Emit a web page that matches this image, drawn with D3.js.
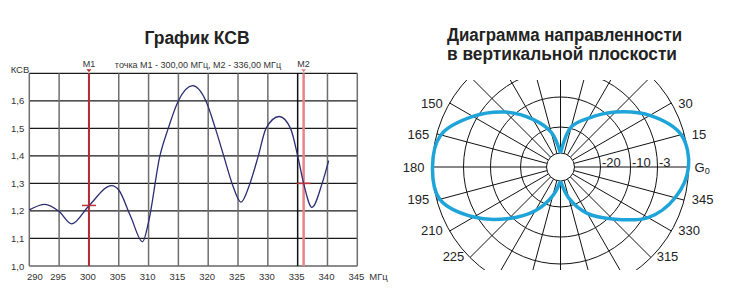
<!DOCTYPE html>
<html>
<head>
<meta charset="utf-8">
<script src="https://cdn.jsdelivr.net/npm/d3@7"></script>
<style>
  body { margin: 0; background: #fff; }
  svg { display: block; font-family: "Liberation Sans", Arial, sans-serif; }
</style>
</head>
<body>
<div id="canvas"></div>
<script>
"use strict";

/* === VSWR data === */
let freqs = [290, 292.6, 295, 297.1, 300, 303.8, 305, 307, 309, 310, 311.9, 313.3, 315, 317.4,
  319.6, 321.2, 322.6, 324, 325.5, 327, 328.4, 329.7, 331.9, 333.8, 335, 336, 337.4, 339.1, 340.2];
let vswr = [1.204, 1.224, 1.198, 1.153, 1.219, 1.292, 1.276, 1.18, 1.088, 1.16, 1.4, 1.5, 1.6, 1.655,
  1.6, 1.5, 1.4, 1.3, 1.232, 1.3, 1.4, 1.5, 1.543, 1.5, 1.4, 1.30, 1.213, 1.3, 1.383];

let xTicks = [290, 295, 300, 305, 310, 315, 320, 325, 330, 335, 340, 345];
let yTicks = [1.0, 1.1, 1.2, 1.3, 1.4, 1.5, 1.6, 1.7];
let yTickLabels = [1.0, 1.1, 1.2, 1.3, 1.4, 1.5, 1.6];

let markerNames = ["M1", "M2"];
let markerFreqs = [300, 336];
let markerVswr = [1.22, 1.30];

/* === Radiation pattern data (dB, every 15°) === */
let patternAngles = [0, 15, 30, 45, 60, 75, 90, 105, 120, 135, 150, 165,
  180, 195, 210, 225, 240, 255, 270, 285, 300, 315, 330, 345];
let patternGain = [0, -0.3, -2.4, -8.0, -14.5, -19.5, -30, -21.5, -15, -8.0, -2.6, -0.4,
  0, -0.3, -2.7, -9.3, -16.5, -24, -30, -23, -15.5, -9.1, -2.6, -0.9];

let ringValues = [-20, -10, -3, 0];
let ringLabels = ["-20", "-10", "-3"];
let angleLabels = [30, 15, 345, 330, 315, 225, 210, 195, 180, 165, 150];

let svgWidth = 746;
let svgHeight = 296;

let svg = d3.select("#canvas")
  .append("svg")
  .attr("width", svgWidth)
  .attr("height", svgHeight);

/* ------------------------------------------------------------
   Left: VSWR chart
------------------------------------------------------------- */
let xScale = d3.scaleLinear().domain([290, 345]).range([29.3, 357.3]);
let yScale = d3.scaleLinear().domain([1.0, 1.7]).range([266, 73.3]);

svg.append("text")
  .attr("x", 197).attr("y", 44)
  .attr("text-anchor", "middle")
  .attr("font-size", "17.5px")
  .attr("font-weight", "bold")
  .attr("fill", "#222")
  .text("График КСВ");

svg.append("text")
  .attr("x", 198).attr("y", 67.5)
  .attr("text-anchor", "middle")
  .attr("font-size", "9px")
  .attr("fill", "#333")
  .text("точка М1 - 300,00 МГц, М2 - 336,00 МГц");

// grid
svg.append("g").selectAll("line.h")
  .data(yTicks).enter().append("line")
  .attr("x1", xScale(290)).attr("x2", xScale(345))
  .attr("y1", d => yScale(d)).attr("y2", d => yScale(d))
  .attr("stroke", "#1a1a1a").attr("stroke-width", 1.2);

svg.append("g").selectAll("line.v")
  .data(xTicks).enter().append("line")
  .attr("x1", d => xScale(d)).attr("x2", d => xScale(d))
  .attr("y1", yScale(1.0)).attr("y2", yScale(1.7))
  .attr("stroke", d => d === 335 ? "#111" : "#6e6e6e")
  .attr("stroke-width", 1.5);

// axes labels
let fmt = d => d3.format(".1f")(d).replace(".", ",");

let yAxis = svg.append("g")
  .attr("transform", `translate(${xScale(290)}, 0)`)
  .call(d3.axisLeft(yScale).tickValues(yTickLabels).tickFormat(fmt).tickSize(0).tickPadding(5));
yAxis.select(".domain").remove();
yAxis.selectAll("text").attr("font-size", "9.5px").attr("fill", "#333")
  .attr("font-family", "Liberation Sans, Arial, sans-serif");

let xAxis = svg.append("g")
  .attr("transform", `translate(0, ${yScale(1.0)})`)
  .call(d3.axisBottom(xScale).tickValues(xTicks).tickSize(0).tickPadding(7));
xAxis.select(".domain").remove();
xAxis.selectAll("text").attr("font-size", "9.5px").attr("fill", "#333")
  .attr("font-family", "Liberation Sans, Arial, sans-serif")
  .attr("dx", d => d === 290 ? 5 : -1.5);

svg.append("text")
  .attr("x", xScale(345) + 12).attr("y", yScale(1.0) + 14)
  .attr("font-size", "9.5px").attr("fill", "#333")
  .text("МГц");

svg.append("text")
  .attr("x", xScale(290)).attr("y", 73)
  .attr("text-anchor", "end")
  .attr("font-size", "9.5px").attr("fill", "#333")
  .text("КСВ");

// markers
let markerColors = ["#b52b35", "#e8838b"];
markerNames.forEach((m, i) => {
  let mx = xScale(markerFreqs[i]);
  svg.append("line")
    .attr("x1", mx).attr("x2", mx)
    .attr("y1", yScale(1.7)).attr("y2", yScale(1.0))
    .attr("stroke", markerColors[i]).attr("stroke-width", i === 0 ? 2 : 2.5);
  svg.append("path")
    .attr("d", `M${mx - 2.5},${yScale(1.7) - 4}L${mx + 2.5},${yScale(1.7) - 4}L${mx},${yScale(1.7) - 1}Z`)
    .attr("fill", markerColors[i]);
  svg.append("text")
    .attr("x", mx).attr("y", 66.5)
    .attr("text-anchor", "middle")
    .attr("font-size", "9px").attr("fill", "#333")
    .text(m);
});

// curve
let curveData = freqs.map((f, i) => ({ f: f, v: vswr[i] }));
svg.append("path")
  .datum(curveData)
  .attr("fill", "none")
  .attr("stroke", "#2b2d72")
  .attr("stroke-width", 1.3)
  .attr("d", d3.line().x(d => xScale(d.f)).y(d => yScale(d.v)).curve(d3.curveMonotoneX));

// marker crosses
markerNames.forEach((m, i) => {
  let mx = xScale(markerFreqs[i]);
  svg.append("line")
    .attr("x1", mx - 7).attr("x2", mx + 7)
    .attr("y1", yScale(markerVswr[i])).attr("y2", yScale(markerVswr[i]))
    .attr("stroke", "#c0303a").attr("stroke-width", 1.5);
});

/* ------------------------------------------------------------
   Right: vertical-plane radiation pattern
------------------------------------------------------------- */
let cx = 560.5, cy = 167;
let rScale = d3.scaleLinear()
  .domain([-30, -20, -10, -3, 0])
  .range([14, 40, 70, 97, 128]);
let rMax = rScale(0), rMin = rScale(-30);
let rad = a => a * Math.PI / 180;

let titleR = svg.append("text")
  .attr("x", 447).attr("y", 41)
  .attr("font-size", "18px")
  .attr("font-weight", "bold")
  .attr("fill", "#222");
titleR.append("tspan").attr("x", 447)
  .attr("textLength", 235).attr("lengthAdjust", "spacingAndGlyphs")
  .text("Диаграмма направленности");
titleR.append("tspan").attr("x", 447).attr("dy", 19)
  .attr("textLength", 230).attr("lengthAdjust", "spacingAndGlyphs")
  .text("в вертикальной плоскости");

svg.append("defs").append("clipPath").attr("id", "polarClip")
  .append("rect").attr("x", cx - 160).attr("y", 80).attr("width", 320).attr("height", 190);

let polar = svg.append("g")
  .attr("clip-path", "url(#polarClip)")
  .append("g")
  .attr("transform", `translate(${cx}, ${cy})`);

polar.selectAll("circle.ring")
  .data(ringValues).enter().append("circle")
  .attr("r", d => rScale(d))
  .attr("fill", "none").attr("stroke", "#111").attr("stroke-width", 1);

polar.selectAll("line.spoke")
  .data(d3.range(0, 360, 15)).enter().append("line")
  .attr("x1", d => rMin * Math.cos(rad(d))).attr("y1", d => -rMin * Math.sin(rad(d)))
  .attr("x2", d => rMax * Math.cos(rad(d))).attr("y2", d => -rMax * Math.sin(rad(d)))
  .attr("stroke", "#111").attr("stroke-width", 1);

polar.append("circle")
  .attr("r", rMin)
  .attr("fill", "#fff").attr("stroke", "#111").attr("stroke-width", 1);

// two lobes, each drawn from cusp to cusp
let pts = patternAngles.map((a, i) => ({ a: a, g: patternGain[i] }));
let rightLobe = pts.filter(d => d.a >= 270).concat(pts.filter(d => d.a <= 90))
  .map(d => ({ a: d.a >= 270 ? d.a - 360 : d.a, g: d.g }));
let leftLobe = pts.filter(d => d.a >= 90 && d.a <= 270);

let radial = d3.lineRadial()
  .angle(d => rad(90 - d.a))
  .radius(d => rScale(d.g))
  .curve(d3.curveCatmullRom.alpha(0.5));

[rightLobe, leftLobe].forEach(lobe => {
  polar.append("path")
    .datum(lobe)
    .attr("fill", "none")
    .attr("stroke", "#1ea4d9")
    .attr("stroke-width", 3.5)
    .attr("d", radial);
});

// labels
let labels = svg.append("g").attr("font-size", "13px").attr("fill", "#222");

labels.selectAll("text.ang")
  .data(angleLabels).enter().append("text")
  .attr("x", d => cx + 136 * Math.cos(rad(d)))
  .attr("y", d => cy - 127 * Math.sin(rad(d)))
  .attr("dy", "0.35em")
  .attr("text-anchor", d => Math.cos(rad(d)) > 0 ? "start" : "end")
  .text(d => d);

labels.selectAll("text.ring")
  .data(ringLabels).enter().append("text")
  .attr("x", d => cx + rScale(+d) + 1.5)
  .attr("y", cy - 0.5)
  .text(d => d);

let g0 = labels.append("text")
  .attr("x", cx + rMax + 6).attr("y", cy + 4.5);
g0.append("tspan").text("G");
g0.append("tspan").attr("font-size", "9px").attr("dy", 2).text("0");
</script>
</body>
</html>
